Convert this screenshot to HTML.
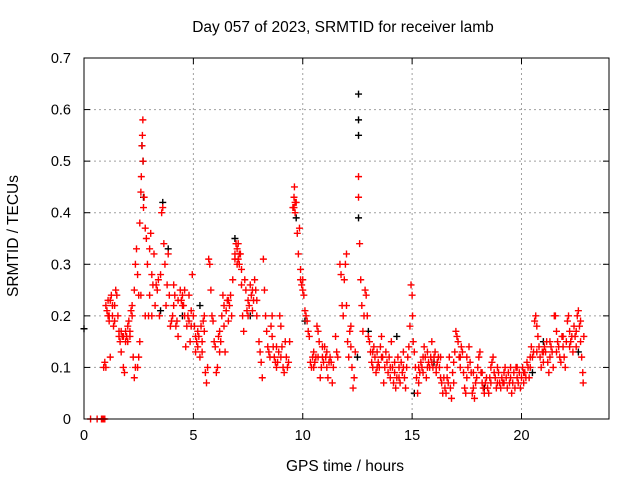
<!DOCTYPE html>
<html><head><meta charset="utf-8"><style>
body{margin:0;background:#fff}
svg{display:block;font-family:"Liberation Sans",sans-serif}
</style></head><body>
<svg id="chart" width="640" height="480" xmlns="http://www.w3.org/2000/svg">
<text x="343" y="32" font-size="15.5" text-anchor="middle">Day 057 of 2023, SRMTID for receiver lamb</text>
<text x="345" y="471" font-size="15.5" text-anchor="middle">GPS time / hours</text>
<text transform="translate(18,236) rotate(-90)" font-size="15.5" text-anchor="middle">SRMTID / TECUs</text>
<g id="grid"></g>
<g id="ticks"></g>
<g id="pts"></g>
<rect x="84" y="58" width="525" height="361" fill="none" stroke="#000" stroke-width="1"/>
</svg>
<script>
const xTicks=[0,5,10,15,20];
const yTicks=[0,0.1,0.2,0.3,0.4,0.5,0.6,0.7];
const yLabels=["0","0.1","0.2","0.3","0.4","0.5","0.6","0.7"];
const redPts=[
[0.3,0],[0.6,0],[0.8,0],[0.85,0],[0.9,0],[0.95,0],
[0.9,0.1],[0.95,0.11],[1.0,0.1],[1.0,0.22],[1.05,0.21],[1.1,0.2],[1.15,0.19],[1.2,0.23],[1.25,0.24],[1.3,0.2],[1.35,0.18],[1.4,0.22],[1.45,0.25],[1.5,0.24],[1.55,0.2],[1.2,0.12],
[1.6,0.17],[1.65,0.15],[1.7,0.13],[1.75,0.16],[1.8,0.1],[1.85,0.09],[1.9,0.17],[1.95,0.16],[2.0,0.15],[2.05,0.19],[2.1,0.17],[2.15,0.21],[2.2,0.2],[2.25,0.12],[2.3,0.08],[2.35,0.1],
[2.3,0.25],[2.35,0.3],[2.4,0.33],[2.45,0.28],[2.5,0.24],[2.55,0.38],[2.6,0.44],[2.62,0.47],[2.65,0.53],[2.67,0.55],[2.69,0.58],[2.7,0.5],[2.72,0.41],[2.75,0.43],[2.8,0.37],[2.85,0.35],[2.9,0.3],[2.95,0.2],[3.0,0.33],[3.05,0.36],[3.1,0.28],[3.15,0.26],[3.2,0.32],[3.25,0.22],[3.3,0.26],[3.35,0.25],[3.4,0.27],[3.45,0.2],[3.5,0.28],[3.55,0.4],[3.6,0.41],[3.65,0.34],[3.7,0.3],[3.75,0.22],[2.5,0.12],[2.55,0.15],[2.45,0.1],[2.6,0.24],[2.8,0.2],[3.0,0.24],[3.1,0.2],
[3.8,0.26],[3.85,0.32],[3.9,0.24],[3.95,0.18],[4.0,0.19],[4.05,0.2],[4.1,0.22],[4.15,0.24],[4.2,0.18],[4.25,0.19],[4.3,0.16],
[4.4,0.25],[4.45,0.23],[4.5,0.24],[4.55,0.22],[4.6,0.25],[4.65,0.14],[4.7,0.18],[4.75,0.2],[4.8,0.19],[4.85,0.15],[4.9,0.21],[4.95,0.28],[5.0,0.2],[5.05,0.18],
[5.1,0.13],[5.15,0.15],[5.2,0.14],[5.25,0.16],[5.3,0.12],[5.35,0.18],[5.4,0.15],[5.45,0.19],[5.5,0.17],[5.55,0.09],[5.6,0.07],[5.65,0.1],[5.7,0.31],[5.75,0.3],[5.8,0.25],[5.85,0.2],[5.9,0.19],[5.95,0.15],[6.0,0.14],[6.05,0.09],[6.1,0.1],[6.15,0.16],[6.2,0.17],[6.25,0.15],[6.3,0.2],[6.35,0.24],[6.4,0.22],[6.45,0.13],[6.5,0.21],[6.55,0.23],
[6.6,0.23],[6.65,0.22],[6.7,0.24],[6.75,0.2],[6.8,0.27],[6.9,0.32],[6.95,0.34],[7.0,0.33],[7.05,0.31],[7.1,0.3],[7.15,0.32],[7.2,0.26],[7.25,0.2],[7.3,0.17],[7.35,0.27],[7.4,0.25],[7.45,0.21],[7.5,0.23],[7.55,0.22],[7.6,0.26],[7.65,0.24],[7.7,0.21],[7.75,0.23],[7.8,0.27],[7.85,0.25],[7.9,0.2],
[8.0,0.15],[8.05,0.13],[8.1,0.11],[8.15,0.08],[8.2,0.31],[8.25,0.25],[8.3,0.2],[8.35,0.17],[8.4,0.14],[8.45,0.13],[8.5,0.12],[8.55,0.18],[8.6,0.16],[8.65,0.14],[8.7,0.12],[8.75,0.11],[8.8,0.1],[8.85,0.11],[8.9,0.13],[8.95,0.2],[9.0,0.18],[9.05,0.14],[9.1,0.1],[9.15,0.09],[9.2,0.15],[9.25,0.12],[9.3,0.1],[9.35,0.11],[9.4,0.15],
[9.55,0.41],[9.6,0.43],[9.62,0.45],[9.65,0.4],[9.7,0.42],[9.75,0.36],[9.8,0.32],[9.85,0.37],[9.9,0.29],[9.95,0.26],[10.0,0.27],[10.05,0.24],[10.1,0.21],[10.15,0.2],[10.2,0.19],[10.25,0.17],[10.3,0.16],
[10.35,0.11],[10.4,0.1],[10.45,0.12],[10.5,0.13],[10.55,0.11],[10.6,0.12],[10.65,0.18],[10.7,0.17],[10.75,0.15],[10.8,0.08],[10.85,0.1],[10.9,0.12],[10.95,0.11],[11.0,0.14],[11.05,0.12],[11.1,0.1],[11.15,0.08],[11.2,0.11],[11.25,0.12],
[11.35,0.07],[11.4,0.1],[11.5,0.16],[11.55,0.13],[11.6,0.12],[11.7,0.3],[11.75,0.28],[11.8,0.22],[11.85,0.2],[11.9,0.27],[11.95,0.3],[12.0,0.32],[12.05,0.15],[12.1,0.12],[12.15,0.17],[12.2,0.14],[12.25,0.1],[12.3,0.06],[12.35,0.08],
[12.55,0.47],[12.55,0.43],[12.6,0.34],[12.65,0.27],[12.7,0.22],[12.75,0.17],[12.8,0.2],[12.85,0.25],[12.9,0.24],[12.95,0.2],[13.0,0.16],[13.05,0.15],[13.1,0.13],[13.15,0.11],[13.2,0.1],[13.25,0.14],[13.3,0.12],[13.35,0.09],[13.4,0.13],[13.45,0.11],[13.5,0.1],[13.55,0.14],[13.6,0.16],[13.65,0.12],[13.7,0.07],[13.75,0.1],[13.8,0.13],[13.85,0.11],
[13.9,0.09],[13.95,0.12],[14.0,0.08],[14.05,0.15],[14.1,0.1],[14.15,0.07],[14.2,0.09],[14.25,0.06],[14.3,0.08],[14.35,0.12],[14.4,0.1],[14.45,0.07],[14.5,0.11],[14.55,0.09],[14.6,0.13],[14.65,0.08],[14.7,0.06],[14.75,0.1],[14.8,0.12],[14.85,0.14],[14.9,0.18],
[14.95,0.26],[15.0,0.24],[15.02,0.2],[15.05,0.15],[15.1,0.13],[15.15,0.1],[15.2,0.08],[15.25,0.05],[15.3,0.07],[15.35,0.09],[15.4,0.11],[15.45,0.1],[15.5,0.09],[15.55,0.14],[15.6,0.12],[15.65,0.08],[15.7,0.13],[15.75,0.11],[15.8,0.1],[15.85,0.12],[15.9,0.15],[15.95,0.1],[16.0,0.12],[16.05,0.13],[16.1,0.09],[16.15,0.11],[16.2,0.12],[16.25,0.1],[16.3,0.08],
[16.35,0.07],[16.4,0.05],[16.45,0.08],[16.5,0.06],[16.55,0.05],[16.6,0.08],[16.65,0.07],[16.7,0.12],[16.75,0.06],[16.8,0.04],[16.85,0.09],[16.9,0.11],[16.95,0.13],[17.0,0.17],[17.05,0.16],[17.1,0.15],[17.15,0.12],[17.2,0.1],[17.25,0.14],[17.3,0.13],[17.35,0.09],[17.4,0.06],[17.45,0.05],[17.5,0.08],[17.55,0.1],[17.6,0.14],[17.65,0.11],[17.7,0.09],
[17.75,0.05],[17.8,0.06],[17.85,0.04],[17.9,0.07],[17.95,0.08],[18.0,0.1],[18.05,0.12],[18.1,0.13],[18.15,0.09],[18.2,0.07],[18.25,0.06],[18.3,0.05],[18.35,0.07],[18.4,0.08],[18.45,0.06],[18.5,0.05],[18.55,0.08],[18.6,0.1],[18.65,0.11],[18.7,0.12],[18.75,0.09],[18.8,0.08],[18.85,0.06],[18.9,0.1],[18.95,0.09],[19.0,0.07],
[19.05,0.06],[19.1,0.08],[19.15,0.07],[19.2,0.09],[19.25,0.1],[19.3,0.08],[19.35,0.06],[19.4,0.09],[19.45,0.07],[19.5,0.08],[19.55,0.05],[19.6,0.07],[19.65,0.09],[19.7,0.06],[19.75,0.1],[19.8,0.08],[19.85,0.07],[19.9,0.09],[19.95,0.06],[20.0,0.08],[20.05,0.1],[20.1,0.07],[20.15,0.09],[20.2,0.08],[20.25,0.11],[20.3,0.1],[20.35,0.08],
[20.4,0.12],[20.45,0.14],[20.5,0.12],[20.55,0.13],[20.6,0.19],[20.65,0.2],[20.7,0.18],[20.75,0.16],[20.8,0.14],[20.85,0.12],[20.9,0.1],[20.95,0.13],[21.0,0.11],[21.05,0.14],[21.1,0.13],[21.15,0.15],[21.2,0.11],[21.25,0.09],[21.3,0.12],[21.35,0.14],[21.4,0.13],[21.45,0.1],
[21.5,0.2],[21.55,0.2],[21.6,0.17],[21.65,0.15],[21.7,0.14],[21.75,0.12],[21.8,0.11],[21.85,0.16],[21.9,0.14],[21.95,0.12],[22.0,0.1],[22.05,0.15],[22.1,0.19],[22.15,0.2],[22.2,0.17],[22.25,0.15],[22.3,0.16],[22.35,0.13],[22.4,0.18],[22.45,0.16],[22.5,0.14],[22.55,0.2],[22.6,0.21],[22.65,0.18],[22.7,0.19],[22.75,0.12],[22.8,0.09],[22.82,0.07],[22.85,0.16]
];
const redExtra=[
[1.1,0.23],[1.15,0.2],[1.3,0.22],[1.4,0.19],[1.6,0.16],[1.7,0.17],[1.8,0.16],[1.9,0.15],[2.0,0.18],[2.1,0.16],[2.2,0.22],[4.1,0.26],[4.3,0.23],[4.5,0.22],[4.6,0.2],[4.8,0.24],[4.9,0.18],
[5.1,0.16],[5.2,0.17],[5.4,0.13],[5.5,0.2],[6.2,0.13],[6.4,0.18],[6.6,0.19],[6.9,0.31],[7.0,0.3],[7.05,0.34],[7.1,0.32],[7.2,0.29],[7.5,0.2],[7.7,0.25],[7.9,0.23],[8.6,0.2],[8.8,0.14],[9.0,0.12],[9.6,0.41],[9.65,0.42],[9.9,0.27],[10.0,0.25],
[10.5,0.1],[10.7,0.12],[10.9,0.14],[11.1,0.13],[11.3,0.11],[12.0,0.22],[12.2,0.18],[12.4,0.13],[13.2,0.13],[13.4,0.1],[13.6,0.12],[14.0,0.1],[14.2,0.11],[14.4,0.08],[14.6,0.1],[15.3,0.1],[15.5,0.12],[15.7,0.1],[15.9,0.11],[16.1,0.1],[16.3,0.12],
[16.6,0.1],[16.9,0.07],[17.2,0.12],[17.5,0.12],[17.8,0.09],[18.2,0.09],[18.6,0.07],[18.9,0.07],[19.2,0.07],[19.5,0.1],[19.8,0.1],[20.1,0.09],[20.4,0.1],[20.7,0.13],[21.0,0.13],[21.3,0.15],[21.6,0.13],[21.9,0.16],[22.2,0.14],[22.5,0.17],[22.7,0.15]
];
const blackPts=[[0,0.175],[2.65,0.53],[2.7,0.5],[2.72,0.43],[3.5,0.21],[3.6,0.42],[3.85,0.33],[4.5,0.2],[5.3,0.22],[6.9,0.35],[9.7,0.39],[12.55,0.63],[12.55,0.58],[12.55,0.55],[12.55,0.39],[12.5,0.12],[13.0,0.17],[14.3,0.16],[15.1,0.05],[16.0,0.11],[18.3,0.06],[20.5,0.09],[21.0,0.15],[22.6,0.13],[7.6,0.2],[10.1,0.19]];
const X0=84,X1=609,Y0=419,Y1=58,XMAX=24,YMAX=0.7;
const sx=v=>X0+v/XMAX*(X1-X0);
const sy=v=>Y0-v/YMAX*(Y0-Y1);
const NS="http://www.w3.org/2000/svg";
const grid=document.getElementById('grid'),ticks=document.getElementById('ticks'),pts=document.getElementById('pts');
function mk(t,a,p){const e=document.createElementNS(NS,t);for(const k in a)e.setAttribute(k,a[k]);p.appendChild(e);return e;}
xTicks.forEach(v=>{const x=sx(v);
 if(v>0){const g=mk('line',{x1:x,x2:x,y1:Y1,y2:Y0,stroke:'#a0a0a0','stroke-dasharray':'2,3'},grid);
 
 }
 mk('line',{x1:x,x2:x,y1:Y0,y2:Y0-6,stroke:'#000'},ticks);mk('line',{x1:x,x2:x,y1:Y1,y2:Y1+6,stroke:'#000'},ticks);
 const t=mk('text',{x:x,y:Y0+21,'font-size':14.5,'text-anchor':'middle'},ticks);t.textContent=v;
 
 });
yTicks.forEach((v,i)=>{const y=sy(v);
 if(v>0&&v<YMAX){const g=mk('line',{x1:X0,x2:X1,y1:y,y2:y,stroke:'#a0a0a0','stroke-dasharray':'2,3'},grid);
 
 }
 mk('line',{x1:X0,x2:X0+6,y1:y,y2:y,stroke:'#000'},ticks);mk('line',{x1:X1,x2:X1-6,y1:y,y2:y,stroke:'#000'},ticks);
 const t=mk('text',{x:X0-13,y:y+5,'font-size':14.5,'text-anchor':'end'},ticks);t.textContent=yLabels[i];
 
 });
function plus(d,c,name){const x=sx(d[0]),y=sy(d[1]);
 const p=mk('path',{d:`M${x-3.5},${y}h7M${x},${y-3.5}v7`,stroke:c,'stroke-width':1.4},pts);
 
 }
blackPts.forEach(d=>plus(d,'#000','black-point'));
redPts.forEach(d=>plus(d,'#ff0000','red-point'));
redExtra.forEach(d=>plus(d,'#ff0000','red-point'));
</script>
</body></html>
